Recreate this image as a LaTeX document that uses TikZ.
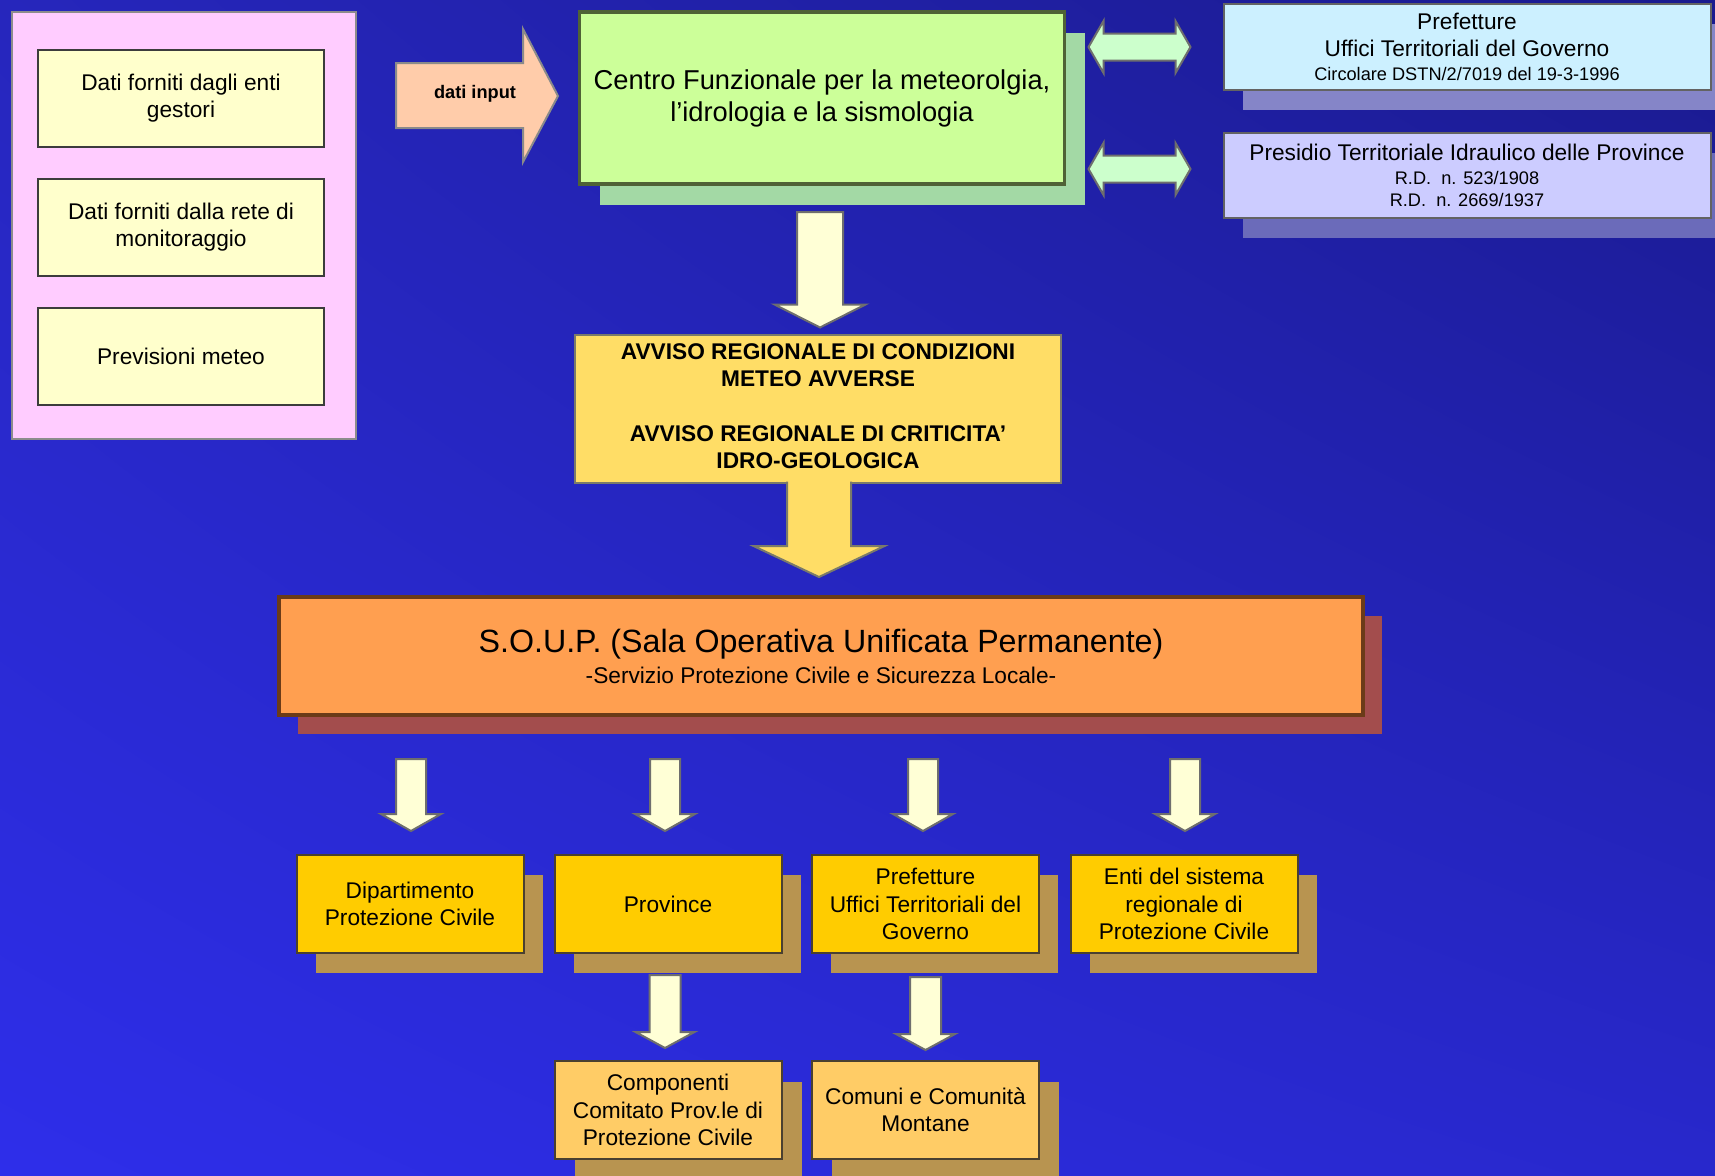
\documentclass[tikz,border=0pt]{standalone}
\usepackage{fontspec}
\setmainfont{Liberation Sans}
\usetikzlibrary{calc,shadings}
\pgfdeclarelayer{bglayer}
\pgfdeclarelayer{shlayer}
\pgfsetlayers{bglayer,shlayer,main}
\definecolor{bgUL}{HTML}{2626BC}
\definecolor{bgUR}{HTML}{1A1A8E}
\definecolor{bgLL}{HTML}{2E2EEA}
\definecolor{bgLR}{HTML}{2828CC}
\definecolor{pinkF}{HTML}{FFCCFF}
\definecolor{pinkD}{HTML}{8C8C8C}
\definecolor{creamF}{HTML}{FFFFCC}
\definecolor{darkD}{HTML}{3C3C3C}
\definecolor{inF}{HTML}{FFCCAA}
\definecolor{inD}{HTML}{8A8A8A}
\definecolor{cfF}{HTML}{CCFF99}
\definecolor{cfD}{HTML}{4F6236}
\definecolor{cfS}{HTML}{A3D9A5}
\definecolor{dblF}{HTML}{CCFFCC}
\definecolor{prefF}{HTML}{CCF0FF}
\definecolor{prefS}{HTML}{8585C8}
\definecolor{presF}{HTML}{CCCCFF}
\definecolor{presS}{HTML}{6B6BBA}
\definecolor{avF}{HTML}{FFDD66}
\definecolor{avD}{HTML}{7A7A6A}
\definecolor{soupF}{HTML}{FF9F50}
\definecolor{soupD}{HTML}{6B3B18}
\definecolor{soupS}{HTML}{A34D4D}
\definecolor{yF}{HTML}{FFCC00}
\definecolor{yD}{HTML}{4A4030}
\definecolor{yS}{HTML}{B89450}
\definecolor{oF}{HTML}{FFCC66}
\definecolor{arrF}{HTML}{FFFFD6}
\definecolor{arrD}{HTML}{6E6E6E}
\newcommand\smallfs{\fontsize{18.2}{22}\selectfont}
% #1 style, #2 top coord, #3 tip coord, #4 shaft half, #5 head half, #6 head length
\newcommand\downblock[6]{%
  \filldraw[#1] ($(#2)+(-#4,0)$) -- ($(#3)+(-#4,-#6)$) -- ($(#3)+(-#5,-#6)$) -- (#3)
    -- ($(#3)+(#5,-#6)$) -- ($(#3)+(#4,-#6)$) -- ($(#2)+(#4,0)$) -- cycle;}
% #1 style, #2 left tip, #3 right tip, #4 shaft half, #5 head half, #6 head length
\newcommand\hdouble[6]{%
  \filldraw[#1] (#2) -- ($(#2)+(#6,-#5)$) -- ($(#2)+(#6,-#4)$) -- ($(#3)+(-#6,-#4)$)
    -- ($(#3)+(-#6,-#5)$) -- (#3) -- ($(#3)+(-#6,#5)$) -- ($(#3)+(-#6,#4)$)
    -- ($(#2)+(#6,#4)$) -- ($(#2)+(#6,#5)$) -- cycle;}
% #1 colour, #2 node, #3 offset
\newcommand\shadowof[3]{%
  \begin{pgfonlayer}{shlayer}
    \fill[#1] ($(#2.south west)+(#3)$) rectangle ($(#2.north east)+(#3)$);
  \end{pgfonlayer}}
\tikzset{
  base/.style={inner sep=0pt, outer sep=0pt, align=center,
    font=\fontsize{22.7}{27.2}\selectfont},
  pinkbox/.style={base, fill=pinkF, draw=pinkD, line width=2pt},
  cream/.style={base, fill=creamF, draw=darkD, line width=2pt,
    minimum width=286pt, minimum height=97pt},
  cfbox/.style={base, fill=cfF, draw=cfD, line width=3.5pt,
    font=\fontsize{27.3}{32}\selectfont},
  prefbox/.style={base, fill=prefF, draw=darkD!80, line width=2pt},
  presbox/.style={base, fill=presF, draw=darkD!80, line width=2pt},
  avbox/.style={base, fill=avF, draw=avD, line width=2pt,
    font=\bfseries\fontsize{22.7}{27.3}\selectfont},
  soupbox/.style={base, fill=soupF, draw=soupD, line width=3.5pt},
  ybox/.style={base, fill=yF, draw=yD, line width=2pt,
    minimum width=227pt, minimum height=98pt},
  obox/.style={base, fill=oF, draw=yD, line width=2pt,
    minimum width=227pt, minimum height=98pt},
  inarrow/.style={fill=inF, draw=inD, line width=2pt, line join=miter},
  dnarrow/.style={fill=arrF, draw=arrD, line width=2pt, line join=miter},
  dblarrow/.style={fill=dblF, draw=arrD, line width=2pt, line join=miter},
}
\begin{document}
\begin{tikzpicture}[x=1pt,y=-1pt]
\useasboundingbox (0,0) rectangle (1715,1175);
\begin{pgfonlayer}{bglayer}
  \shade[upper left=bgUL, upper right=bgUR, lower left=bgLL, lower right=bgLR]
    (0,0) rectangle (1715,1175);
\end{pgfonlayer}

% sources
\node[pinkbox, minimum width=344pt, minimum height=427pt] (src) at (184,225.5) {};
\node[cream] (d1) at (181,98) {Dati forniti dagli enti\\gestori};
\node[cream] (d2) at (181,227.5) {Dati forniti dalla rete di\\monitoraggio};
\node[cream] (d3) at (181,356.5) {Previsioni meteo};

% dati input arrow
\filldraw[inarrow] (396,63) -- (523,63) -- (523,29) -- (558,96) -- (523,162)
  -- (523,128) -- (396,128) -- cycle;
\node[base, font=\bfseries\smallfs] (datiin) at (475,94) {dati input};

% centro funzionale
\node[cfbox, minimum width=485pt, minimum height=172pt] (cf) at (822,98)
  {Centro Funzionale per la meteorolgia,\\l’idrologia e la sismologia};
\shadowof{cfS}{cf}{20,21}

% prefetture / presidio
\node[prefbox, minimum width=487pt, minimum height=86pt] (pref) at (1467,47)
  {Prefetture\\Uffici Territoriali del Governo\\[-3pt]{\smallfs Circolare DSTN/2/7019 del 19-3-1996}};
\shadowof{prefS}{pref}{19,20}
\node[presbox, minimum width=487pt, minimum height=85pt] (pres) at (1467,175.5)
  {Presidio Territoriale Idraulico delle Province\\[-3.5pt]{\smallfs R.D.\ \ n. 523/1908}\\[-4.5pt]{\smallfs R.D.\ \ n. 2669/1937}};
\shadowof{presS}{pres}{19,20}

% double arrows
\coordinate (h1l) at ($(cf.east)+(24,-51)$);
\coordinate (h1r) at ($(pref.west |- h1l)+(-33,0)$);
\hdouble{dblarrow}{h1l}{h1r}{13.5}{26}{15}
\coordinate (h2l) at ($(cf.east)+(24,71)$);
\coordinate (h2r) at ($(pres.west |- h2l)+(-33,0)$);
\hdouble{dblarrow}{h2l}{h2r}{13.5}{26}{15}

% avviso
\node[avbox, minimum width=486pt, minimum height=148pt] (av) at (818,408.5) {};
\node[base, font=\bfseries\fontsize{22.7}{27.3}\selectfont] (avtxt) at ($(av.center)+(0,-2.5)$)
  {AVVISO REGIONALE DI CONDIZIONI\\METEO AVVERSE\\[27.3pt]AVVISO REGIONALE DI CRITICITA’\\IDRO-GEOLOGICA};

% arrow centro -> avviso
\coordinate (a1t) at ($(cf.south)+(-2,28)$);
\coordinate (a1b) at ($(a1t |- av.north)+(0,-7)$);
\downblock{dnarrow}{a1t}{a1b}{23}{45.5}{23}

% SOUP
\node[soupbox, minimum width=1084pt, minimum height=118pt] (soup) at (821,656)
  {{\fontsize{32.2}{34}\selectfont S.O.U.P. (Sala Operativa Unificata Permanente)}\\[3.8pt]-Servizio Protezione Civile e Sicurezza Locale-};
\shadowof{soupS}{soup}{19,19}

% arrow avviso -> SOUP (merged with avviso box)
\coordinate (a2t) at ($(av.south)+(1,-1.5)$);
\coordinate (a2b) at ($(a2t |- soup.north)+(0,-20)$);
\fill[avF] ($(a2t)+(-32,0)$) -- ($(a2b)+(-32,-31)$) -- ($(a2b)+(-65.5,-31)$) -- (a2b)
  -- ($(a2b)+(65.5,-31)$) -- ($(a2b)+(32,-31)$) -- ($(a2t)+(32,0)$) -- cycle;
\draw[avD, line width=2pt, line join=miter] ($(a2t)+(-32,0.5)$) -- ($(a2b)+(-32,-31)$)
  -- ($(a2b)+(-65.5,-31)$) -- (a2b) -- ($(a2b)+(65.5,-31)$) -- ($(a2b)+(32,-31)$)
  -- ($(a2t)+(32,0.5)$);

% recipients
\node[ybox] (y1) at (410,904) {Dipartimento\\Protezione Civile};
\node[ybox] (y2) at (668,904) {Province};
\node[ybox] (y3) at (925.5,904) {Prefetture\\Uffici Territoriali del\\Governo};
\node[ybox] (y4) at (1184,904) {Enti del sistema\\regionale di\\Protezione Civile};
\foreach \n in {y1,y2,y3,y4}{\shadowof{yS}{\n}{19,20}}

\foreach \n/\dx in {y1/1,y2/-3,y3/-2.5,y4/1}{
  \coordinate (t\n) at ($(\n.north |- soup.south)+(\dx,44)$);
  \coordinate (b\n) at ($(t\n |- \n.north)+(0,-24)$);
  \downblock{dnarrow}{t\n}{b\n}{15}{30}{17}
}

% lower level
\node[obox] (o1) at (668,1110) {Componenti\\Comitato Prov.le di\\Protezione Civile};
\node[obox] (o2) at (925.5,1110) {Comuni e Comunità\\Montane};
\shadowof{yS}{o1}{20,21}
\shadowof{yS}{o2}{20,21}

\coordinate (a7t) at ($(y2.south)+(-3,22)$);
\coordinate (a7b) at ($(a7t |- o1.north)+(0,-13)$);
\downblock{dnarrow}{a7t}{a7b}{15.5}{29.5}{16}
\coordinate (a8t) at ($(y3.south)+(0,24)$);
\coordinate (a8b) at ($(a8t |- o2.north)+(0,-11)$);
\downblock{dnarrow}{a8t}{a8b}{15.5}{29.5}{16}
\end{tikzpicture}
\end{document}
